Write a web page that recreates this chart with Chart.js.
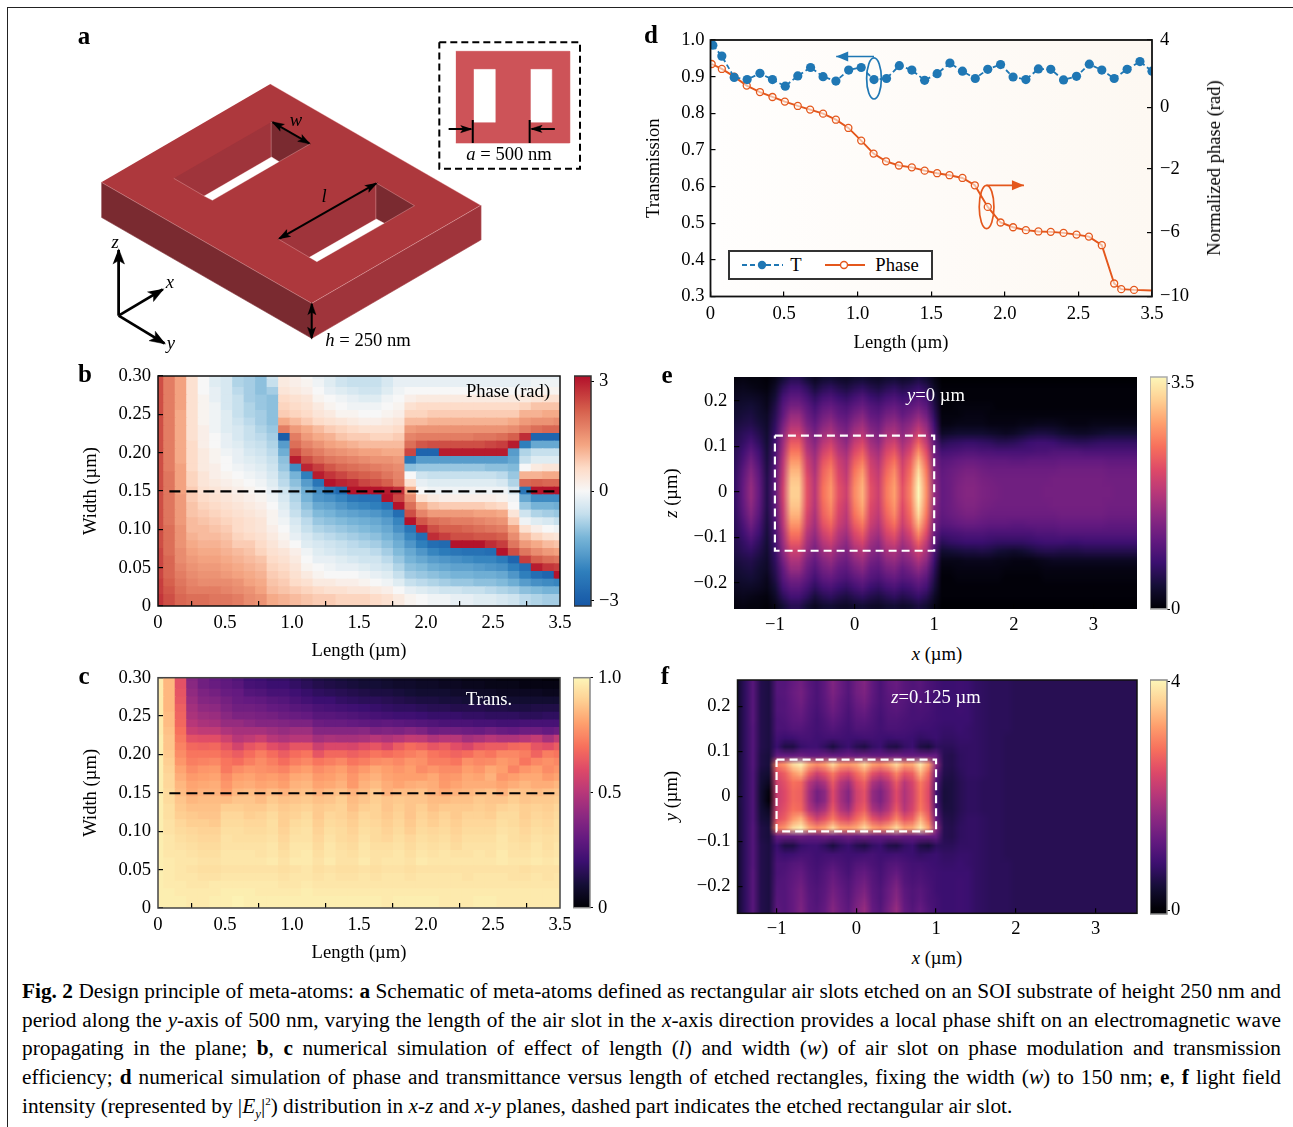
<!DOCTYPE html>
<html><head><meta charset="utf-8">
<script src="https://cdn.jsdelivr.net/npm/chart.js@4"></script>
<style>
html,body{margin:0;padding:0;background:#fff;}
body{width:1293px;height:1127px;position:relative;overflow:hidden;font-family:"Liberation Serif",serif;color:#000;}
canvas{position:absolute;display:block;}
.t{position:absolute;font-size:18.6px;line-height:20px;white-space:nowrap;transform:translate(-50%,-50%);z-index:5;}
.r{transform:translate(-50%,-50%) rotate(-90deg);}
.p{font-size:25px;font-weight:bold;}
.w{color:#fff;}
.cap{position:absolute;left:22px;width:1259px;font-size:21.3px;line-height:24px;height:24px;overflow:hidden;text-align:justify;text-align-last:justify;z-index:5;}
#frame{position:absolute;left:7px;top:7px;width:1290px;height:1130px;border:1.5px solid #222;box-sizing:border-box;}
.clip{position:absolute;overflow:hidden;background:#000;}
#leg{position:absolute;left:728px;top:250px;width:205px;height:30px;box-sizing:border-box;border:2px solid #333;background:#fff;z-index:4;}
#leg svg{position:absolute;left:0;top:0;}
</style></head><body>
<div id="frame"></div>
<canvas id="ca" width="540" height="350" style="left:60px;top:10px"></canvas>
<canvas id="cb" width="495" height="296" style="left:80px;top:366px"></canvas>
<canvas id="cbBar" width="60" height="250" style="left:574px;top:366px"></canvas>
<canvas id="cc" width="495" height="296" style="left:80px;top:668px"></canvas>
<canvas id="ccBar" width="60" height="250" style="left:573px;top:668px"></canvas>
<canvas id="cd" width="582" height="322" style="left:643px;top:30px"></canvas>
<div class="clip" style="left:734.3px;top:377.3px;width:402.7px;height:231.7px"><canvas id="ceHeat" width="51" height="26" style="left:-3.2px;top:-3.6px;width:406px;height:236.6px"></canvas></div>
<canvas id="ce" width="495" height="273" style="left:660px;top:367px"></canvas>
<canvas id="ceBar" width="60" height="252" style="left:1150px;top:367px"></canvas>
<div class="clip" style="left:737.5px;top:680px;width:399.5px;height:233.3px"><canvas id="cfHeat" width="51" height="27" style="left:-4.8px;top:-.9px;width:406.7px;height:243px"></canvas></div>
<canvas id="cf" width="495" height="274" style="left:660px;top:670px"></canvas>
<canvas id="cfBar" width="60" height="254" style="left:1150px;top:670px"></canvas>

<div class="t p" style="left:84px;top:36px">a</div>
<div class="t p" style="left:85px;top:374px">b</div>
<div class="t p" style="left:84px;top:676px">c</div>
<div class="t p" style="left:651px;top:35px">d</div>
<div class="t p" style="left:667px;top:375px">e</div>
<div class="t p" style="left:665px;top:676px">f</div>

<div class="t" style="left:296px;top:120px"><i>w</i></div>
<div class="t" style="left:324px;top:196px"><i>l</i></div>
<div class="t" style="left:115px;top:242px"><i>z</i></div>
<div class="t" style="left:170px;top:282px"><i>x</i></div>
<div class="t" style="left:171px;top:343px"><i>y</i></div>
<div class="t" style="left:368px;top:340px"><i>h</i> = 250 nm</div>
<div class="t" style="left:509px;top:154px"><i>a</i> = 500 nm</div>

<div class="t" style="left:508px;top:391px">Phase (rad)</div>
<div class="t w" style="left:489px;top:699px">Trans.</div>
<div class="t w" style="left:936px;top:395px"><i>y</i>=0 µm</div>
<div class="t w" style="left:936px;top:697px"><i>z</i>=0.125 µm</div>
<div class="t" style="left:901px;top:342px">Length (µm)</div>
<div class="t r" style="left:1214px;top:168px">Normalized phase (rad)</div>
<div class="t" style="left:937px;top:654px"><i>x</i> (µm)</div>
<div class="t r" style="left:671px;top:493px"><i>z</i> (µm)</div>
<div class="t" style="left:937px;top:958px"><i>x</i> (µm)</div>
<div class="t r" style="left:671px;top:796px"><i>y</i> (µm)</div>

<div id="leg"><svg width="201" height="26">
<line x1="12" y1="13" x2="53" y2="13" stroke="#1f77b4" stroke-width="1.8" stroke-dasharray="5 3"/><circle cx="32" cy="13" r="4.2" fill="#1f77b4"/>
<line x1="95" y1="13" x2="135" y2="13" stroke="#e4571c" stroke-width="1.8"/><circle cx="114" cy="13" r="3.5" fill="#fff" stroke="#e4571c" stroke-width="1.4"/>
</svg>
<div class="t" style="left:66px;top:13px">T</div><div class="t" style="left:167px;top:13px">Phase</div></div>

<div class="cap" style="top:979px"><b>Fig. 2</b> Design principle of meta-atoms: <b>a</b> Schematic of meta-atoms defined as rectangular air slots etched on an SOI substrate of height 250 nm and</div>
<div class="cap" style="top:1008px">period along the <i>y</i>-axis of 500 nm, varying the length of the air slot in the <i>x</i>-axis direction provides a local phase shift on an electromagnetic wave</div>
<div class="cap" style="top:1036px">propagating in the plane; <b>b</b>, <b>c</b> numerical simulation of effect of length (<i>l</i>) and width (<i>w</i>) of air slot on phase modulation and transmission</div>
<div class="cap" style="top:1065px">efficiency; <b>d</b> numerical simulation of phase and transmittance versus length of etched rectangles, fixing the width (<i>w</i>) to 150 nm; <b>e</b>, <b>f</b> light field</div>
<div class="cap" style="top:1094px;text-align-last:left;height:30px">intensity (represented by |<i>E<sub style="font-size:13px;line-height:0">y</sub></i>|<sup style="font-size:11px;line-height:0">2</sup>) distribution in <i>x-z</i> and <i>x-y</i> planes, dashed part indicates the etched rectangular air slot.</div>

<script>
/* ---------- tick positions and labels ---------- */
const lengthTicks=[0,0.5,1,1.5,2,2.5,3];
const lengthTickLabels=["0","0.5","1.0","1.5","2.0","2.5","3.5"];
const widthTicks=[0,0.05,0.10,0.15,0.20,0.25,0.30];
const widthTickLabels=["0","0.05","0.10","0.15","0.20","0.25","0.30"];
const transTicks=[0.3,0.4,0.5,0.6,0.7,0.8,0.9,1.0];
const transTickLabels=["0.3","0.4","0.5","0.6","0.7","0.8","0.9","1.0"];
const phaseAxisTicks=[4,0.31,-3.04,-6.51,-10];
const phaseAxisLabels=["4","0","\u22122","\u22126","\u221210"];
const fieldXTicks=[-1,0,1,2,3];
const fieldXLabels=["\u22121","0","1","2","3"];
const fieldYTicks=[0.2,0.1,0,-0.1,-0.2];
const fieldYLabels=["0.2","0.1","0","\u22120.1","\u22120.2"];

/* ---------- panel d ---------- */
const tLength=[.016,.077,.161,.249,.336,.421,.508,.593,.680,.765,.852,.939,1.024,1.111,1.196,1.283,1.368,1.455,1.540,1.627,1.712,1.799,1.884,1.971,2.056,2.143,2.228,2.312,2.399,2.487,2.574,2.659,2.743,2.831,2.918,3.0];
const tValues=[.986,.956,.898,.892,.909,.892,.874,.902,.925,.900,.888,.918,.925,.892,.895,.930,.918,.890,.908,.937,.915,.895,.920,.933,.899,.892,.921,.920,.891,.901,.934,.918,.895,.920,.941,.915];
const phaseLength=[.008,.077,.161,.246,.336,.421,.505,.593,.677,.765,.852,.937,1.024,1.108,1.193,1.28,1.368,1.455,1.54,1.624,1.712,1.796,1.884,1.971,2.056,2.143,2.228,2.312,2.399,2.487,2.571,2.659,2.743,2.791,2.878,3.0];
const phaseValues=[2.69,2.42,2.0,1.51,1.16,.89,.64,.4,.2,-.02,-.35,-.8,-1.49,-2.2,-2.62,-2.85,-2.95,-3.13,-3.27,-3.38,-3.53,-3.93,-5.11,-5.96,-6.22,-6.38,-6.45,-6.47,-6.53,-6.62,-6.73,-7.2,-9.29,-9.6,-9.64,-9.67];

/* ---------- panel b: phase, tenths of a radian; rows from width 0.30 to 0, columns along length ---------- */
const phaseGrid=[
[24,18,13,5,0,-3,-4,-8,-9,-11,-5,3,2,0,-2,-3,-5,-6,-6,-6,-4,-2,-2,-2,-2,-2,-2,-2,-2,-2,-2,-2,-2,-2,-2,-2],
[24,18,13,5,0,-3,-4,-8,-9,-11,-6,3,2,1,-1,-3,-5,-6,-6,-6,-4,-2,-2,-2,-2,-2,-2,-2,-2,-2,-2,-2,-2,-1,-1,-1],
[24,18,13,5,0,-2,-4,-7,-9,-11,-9,4,3,2,0,-2,-3,-4,-5,-5,-3,-1,0,0,0,0,0,0,0,0,0,0,0,1,1,1],
[24,18,13,5,1,-2,-4,-6,-9,-10,-11,6,5,4,1,0,-1,-2,-3,-3,-1,0,2,3,3,3,3,3,3,3,3,3,3,4,5,5],
[24,18,13,5,1,-1,-4,-6,-8,-10,-11,7,6,5,3,1,0,-1,-1,-1,0,1,5,6,6,6,6,6,6,6,6,6,7,9,9,9],
[24,18,12,5,1,-1,-3,-6,-8,-9,-11,8,7,6,4,3,1,1,0,0,1,2,7,7,8,8,8,8,8,8,8,8,11,11,12,12],
[24,18,12,5,1,-1,-3,-5,-7,-9,-11,12,10,8,6,5,4,3,2,2,3,4,10,10,11,11,11,11,11,11,11,12,14,15,15,16],
[24,18,12,5,2,-1,-3,-4,-6,-8,-10,18,14,12,10,8,7,6,5,5,5,6,14,15,15,15,15,15,15,15,15,16,18,20,21,21],
[24,18,12,5,2,0,-2,-4,-6,-7,-9,-30,18,14,12,11,9,8,8,7,7,8,17,18,18,18,18,18,19,19,20,22,28,-28,-28,-28],
[24,18,12,6,2,0,-2,-3,-5,-6,-8,-17,20,17,15,13,12,11,10,10,10,10,20,23,24,24,24,24,24,25,26,30,-22,-15,-15,-15],
[24,18,12,6,3,1,-1,-2,-4,-5,-7,-14,24,20,18,16,15,14,13,13,12,12,25,-28,-28,30,30,30,30,30,30,-17,-8,-6,-6,-6],
[24,18,12,6,3,1,0,-2,-3,-4,-6,-11,30,24,21,19,18,17,16,15,15,14,-24,-17,-17,-17,-17,-17,-17,-17,-17,-15,-6,-3,-3,-3],
[24,18,13,6,3,2,0,-1,-2,-3,-5,-10,-20,29,26,23,21,20,19,18,17,16,-11,-10,-10,-10,-10,-10,-10,-11,-11,-12,0,3,4,4],
[24,19,13,7,4,2,1,0,-1,-2,-4,-8,-13,-22,30,27,25,23,22,21,19,17,0,-5,-6,-6,-6,-6,-6,-6,-7,-10,11,11,12,12],
[24,19,13,7,4,3,2,1,0,-1,-3,-7,-11,-17,-24,31,29,28,25,24,22,18,5,-2,-3,-3,-3,-3,-3,-3,-4,-8,21,22,21,21],
[24,19,13,8,5,4,3,2,1,0,-2,-5,-9,-14,-19,-24,-27,31,31,31,30,28,12,0,-1,-1,-1,-1,-1,-1,-1,-4,-24,31,31,31],
[24,19,14,8,6,5,4,3,2,1,-1,-4,-8,-13,-18,-19,-21,-24,-25,-25,31,25,16,5,3,2,2,2,2,2,1,-1,-15,-20,-20,-20],
[24,19,14,9,7,6,5,4,3,2,0,-3,-7,-11,-15,-16,-18,-20,-21,-22,-25,31,20,12,9,8,8,8,8,7,6,0,-10,-13,-13,-14],
[24,19,14,9,8,7,6,5,4,3,1,-2,-6,-9,-12,-13,-15,-16,-17,-18,-20,-26,24,17,14,14,14,14,13,13,12,4,-5,-8,-9,-10],
[24,19,14,10,9,8,7,6,5,4,1,-1,-4,-7,-10,-11,-12,-13,-14,-15,-17,-21,31,23,20,19,18,18,17,16,15,8,-1,-3,-4,-6],
[24,20,15,10,10,9,8,6,5,4,2,0,-3,-6,-8,-9,-10,-11,-12,-13,-15,-19,-24,29,24,22,22,21,20,19,18,13,5,2,0,-1],
[24,20,15,11,10,10,9,7,6,5,3,1,-2,-4,-6,-7,-8,-9,-10,-11,-13,-16,-21,-26,28,26,24,24,23,23,22,16,10,7,5,4],
[24,20,15,12,11,11,10,8,8,6,4,2,0,-3,-4,-5,-6,-7,-8,-9,-11,-14,-18,-22,-26,-27,31,31,31,28,26,19,14,12,10,9],
[25,20,16,13,12,12,11,10,9,7,5,4,2,-1,-3,-4,-5,-6,-6,-7,-9,-12,-15,-18,-21,-23,-24,-25,-25,-26,31,24,19,16,14,13],
[25,21,16,14,13,13,12,11,10,9,6,5,3,0,-2,-2,-3,-4,-5,-5,-7,-10,-13,-15,-17,-18,-19,-20,-21,-21,-23,-28,26,22,20,19],
[25,21,17,15,14,14,13,12,11,10,7,6,4,1,0,-1,-2,-2,-3,-4,-5,-8,-11,-12,-14,-15,-16,-16,-17,-18,-19,-22,-26,30,27,26],
[25,21,18,16,15,15,14,13,12,11,8,7,5,3,1,0,0,0,-1,-2,-3,-6,-9,-10,-11,-12,-13,-13,-14,-14,-15,-18,-22,-26,-28,31],
[26,22,19,17,16,16,16,15,13,12,9,8,6,5,3,3,2,2,1,0,-1,-3,-6,-7,-8,-9,-10,-10,-11,-11,-12,-14,-17,-19,-20,-21],
[26,23,20,18,18,18,17,16,15,13,10,9,8,7,6,5,5,4,4,3,2,0,-2,-3,-4,-5,-5,-6,-6,-7,-8,-9,-11,-12,-13,-13],
[27,24,21,20,20,19,19,18,16,15,12,11,10,9,8,8,7,7,7,6,5,3,1,0,-1,-1,-2,-2,-3,-3,-4,-5,-7,-8,-9,-9],
[27,24,21,20,20,19,19,18,16,15,12,11,10,9,8,8,7,7,7,6,5,3,1,0,-1,-1,-2,-2,-3,-3,-4,-5,-7,-8,-9,-9]
];

/* ---------- panel c: transmission in percent ---------- */
const transGrid=[
[97,85,62,38,33,30,28,25,21,20,18,18,16,14,12,11,10,9,8,8,7,6,6,5,5,4,4,3,3,3,2,2,2,2,1,1],
[97,85,62,39,33,31,29,27,23,22,20,20,18,16,14,13,12,11,10,10,9,8,8,7,7,6,6,5,5,4,4,4,3,3,3,3],
[97,85,63,41,36,34,31,30,26,25,23,23,21,19,17,16,15,14,13,12,12,11,10,9,9,9,8,8,7,7,6,6,6,6,5,5],
[97,85,64,43,38,37,34,31,30,29,27,26,24,22,20,20,18,17,16,16,15,14,13,12,12,11,11,10,10,10,9,9,9,9,9,9],
[97,85,66,45,41,40,36,33,33,32,30,29,27,26,24,23,22,21,20,19,18,17,17,16,15,15,14,14,14,13,13,12,12,13,13,13],
[97,86,67,47,44,43,39,36,36,35,34,32,31,30,27,27,26,25,24,23,22,21,21,20,19,19,19,18,18,17,17,17,16,16,17,17],
[97,86,68,50,47,46,42,42,40,38,38,37,36,36,32,31,31,30,29,28,29,28,27,26,25,24,24,24,23,23,22,22,23,23,23,23],
[97,87,70,54,52,52,48,46,46,46,44,42,44,44,38,38,38,38,39,36,37,36,38,36,32,33,33,32,31,33,31,30,32,32,30,32],
[98,88,72,62,61,61,56,50,52,55,50,48,50,50,45,47,46,46,47,50,48,50,53,52,48,50,50,45,47,50,48,48,50,53,46,52],
[98,88,74,68,67,68,63,57,63,66,61,58,63,63,55,59,59,58,61,63,59,65,69,67,63,65,61,58,63,65,65,68,69,63,61,65],
[98,89,76,71,71,71,68,65,69,73,69,65,69,71,63,68,68,66,68,71,69,71,73,75,71,69,67,69,73,71,75,75,73,67,73,71],
[98,90,78,73,74,75,71,69,73,76,73,69,73,75,71,73,75,71,73,76,77,75,78,77,73,73,71,77,75,76,79,77,71,75,77,75],
[98,91,81,76,78,79,72,76,78,77,76,74,78,80,76,78,80,76,79,82,80,78,80,76,78,76,76,80,78,82,80,74,78,80,76,78],
[98,92,83,79,80,81,76,80,81,79,80,78,82,83,79,80,82,78,82,84,81,80,80,80,82,78,79,82,81,84,78,80,82,82,79,81],
[98,92,85,81,82,83,78,82,83,81,82,80,84,85,81,82,84,79,84,86,83,81,83,84,83,79,81,83,83,83,81,83,85,83,83,85],
[98,93,86,82,84,84,80,85,86,84,86,84,86,87,84,86,87,84,86,89,84,86,86,87,84,82,84,85,86,87,84,88,87,86,87,88],
[98,93,88,85,86,86,86,88,88,86,89,87,88,89,87,88,90,86,88,90,88,89,88,88,86,86,87,87,89,88,88,90,88,89,89,90],
[98,94,89,87,87,87,90,90,89,89,91,89,90,91,89,90,91,87,90,91,88,90,88,90,87,89,89,89,90,89,91,92,90,91,90,92],
[98,94,90,89,88,88,92,92,90,91,93,90,91,93,89,92,91,89,92,91,89,91,88,91,89,91,89,91,91,90,93,93,90,92,91,93],
[98,95,92,90,90,89,93,93,92,92,94,90,93,94,90,93,92,90,93,92,90,92,89,92,90,92,90,92,92,92,94,93,91,93,92,94],
[98,95,93,92,91,91,94,94,93,93,94,91,94,95,91,94,93,91,94,93,91,93,90,93,92,93,91,93,93,93,95,94,92,94,93,94],
[98,96,94,93,92,92,95,94,94,94,95,92,95,95,92,95,93,92,95,93,92,94,92,94,93,94,92,94,94,94,96,94,93,95,94,95],
[98,96,95,94,93,93,95,95,95,95,96,93,96,96,93,96,94,93,96,94,94,95,93,95,94,95,93,95,95,95,96,95,94,96,94,96],
[98,96,96,95,94,94,96,96,96,95,96,94,96,97,94,96,95,94,96,95,95,96,94,96,95,96,95,95,96,95,97,95,95,96,95,96],
[98,97,96,96,95,95,96,96,96,96,97,95,97,97,95,97,95,95,97,95,96,96,95,97,96,96,96,96,96,96,97,96,96,97,96,97],
[98,97,96,95,94,94,95,95,95,95,95,94,95,96,94,95,94,94,95,94,95,95,94,95,95,95,95,95,95,95,95,95,94,95,95,95],
[98,97,96,96,95,95,96,96,96,96,96,95,96,96,95,96,95,95,96,95,96,96,95,96,96,96,96,95,96,96,96,95,95,96,95,96],
[98,97,97,96,96,97,97,97,97,97,97,96,96,97,96,96,96,96,96,96,96,96,96,96,96,96,96,96,96,96,96,96,96,96,96,96],
[98,98,97,97,97,97,98,98,98,97,97,97,97,98,97,97,97,97,97,97,97,97,97,97,97,97,97,97,97,97,97,97,97,97,97,97],
[98,98,98,97,97,98,98,99,98,98,98,98,98,98,98,98,98,98,98,98,97,98,98,98,98,97,97,97,98,98,97,97,97,97,97,97],
[98,98,98,97,97,98,98,99,98,98,98,98,98,98,98,98,98,98,98,98,97,98,98,98,98,97,97,97,98,98,97,97,97,97,97,97]
];

/* ---------- panel e: field intensity in percent of full scale; z from 0.25 to -0.25, x from -1.5 to 3.5 ---------- */
const fieldXZ=[
[2,3,2,2,1,4,10,15,15,10,6,9,10,8,7,9,10,8,7,9,10,8,9,12,9,4,0,0,0,0,0,0,0,0,0,0,0,0,0,0,0,0,0,0,0,0,0,0,0,0,0],
[4,5,4,3,2,7,16,22,22,17,11,15,17,14,12,15,17,14,12,15,17,14,16,19,15,7,1,1,1,1,1,1,1,1,1,1,1,1,1,1,1,1,1,1,1,1,1,1,1,1,1],
[6,7,7,6,4,10,22,28,28,23,17,22,24,20,18,22,25,20,18,22,24,20,22,26,22,11,1,1,1,1,1,1,1,1,1,1,1,1,1,1,1,1,1,1,1,1,1,1,1,1,1],
[8,9,10,8,5,13,26,34,34,28,22,28,30,26,24,28,31,26,24,28,30,26,28,32,27,14,1,1,2,2,2,2,2,1,1,1,1,1,1,1,1,1,1,1,1,1,1,1,1,1,1],
[9,11,12,9,7,15,29,42,42,32,26,33,36,30,28,34,38,30,28,34,36,30,34,40,33,17,2,2,2,3,3,3,2,2,2,2,2,2,2,2,2,2,2,2,2,2,2,2,2,2,2],
[11,13,14,11,8,17,34,48,48,36,30,38,42,35,32,40,44,35,32,40,42,36,40,48,40,21,3,3,4,4,4,4,3,3,3,3,4,4,5,5,5,4,3,3,3,4,4,4,4,4,4],
[13,16,18,14,9,19,39,55,55,42,34,44,48,40,36,46,50,40,36,46,48,40,46,56,46,25,7,8,9,9,9,9,8,7,6,7,9,11,12,12,11,9,8,7,7,8,9,10,10,10,10],
[14,18,23,17,10,21,43,64,64,46,38,50,55,46,40,53,58,45,40,52,56,45,52,66,52,29,15,17,18,19,19,18,17,15,15,16,18,20,21,21,20,18,17,16,16,17,18,18,18,18,18],
[15,21,28,21,11,23,46,71,71,50,42,56,62,50,45,59,65,50,45,58,63,50,59,76,60,32,22,23,24,25,25,24,24,23,23,23,23,23,24,24,25,25,25,25,24,24,24,24,24,24,24],
[16,24,33,24,12,24,50,78,78,55,45,62,68,55,49,65,72,55,49,63,70,55,65,85,66,35,27,28,30,31,31,30,29,29,29,28,28,29,29,29,29,30,30,30,30,30,30,29,29,29,29],
[17,27,37,27,13,26,52,84,84,58,47,66,73,58,51,70,78,58,52,67,75,58,69,92,71,38,29,31,33,35,35,33,32,32,32,32,32,32,32,32,32,33,33,33,33,33,33,32,32,32,32],
[18,29,40,29,14,27,54,88,88,61,49,68,76,60,53,73,82,60,54,70,78,60,72,97,74,40,30,32,35,37,37,35,34,33,33,33,33,33,33,33,34,34,34,34,34,34,34,33,33,33,33],
[18,30,42,30,14,28,56,90,90,62,50,70,78,62,55,75,84,62,55,72,80,62,74,100,76,42,30,32,36,38,38,36,35,34,33,33,33,33,33,34,34,34,34,34,34,34,34,34,33,33,33],
[18,30,42,30,14,28,56,90,90,62,50,70,78,62,55,75,84,62,55,72,80,62,74,100,76,42,30,32,36,38,38,36,35,34,33,33,33,33,33,34,34,34,34,34,34,34,34,34,33,33,33],
[18,29,40,29,14,27,54,88,88,61,49,68,76,60,53,73,82,60,54,70,78,60,72,97,74,40,30,32,35,37,37,35,34,33,33,33,33,33,33,33,34,34,34,34,34,34,34,33,33,33,33],
[17,27,37,27,13,26,52,84,84,58,47,66,73,58,51,70,78,58,52,67,75,58,69,92,71,38,29,31,33,35,35,33,32,32,32,32,32,32,32,32,32,33,33,33,33,33,33,32,32,32,32],
[16,24,33,24,12,24,50,78,78,55,45,62,68,55,49,65,72,55,49,63,70,55,65,85,66,35,27,28,30,31,31,30,29,29,29,28,28,29,29,29,29,30,30,30,30,30,30,29,29,29,29],
[15,21,28,21,11,23,46,71,71,50,42,56,62,50,45,59,65,50,45,58,63,50,59,76,60,32,22,23,24,25,25,25,24,24,24,24,24,24,25,25,25,26,26,26,26,26,26,26,26,26,26],
[14,18,23,17,10,21,43,64,64,46,38,50,55,46,40,53,58,45,40,52,56,45,52,66,52,29,16,18,19,20,20,20,19,18,18,18,18,19,20,21,21,21,20,20,21,21,21,21,21,21,21],
[13,16,18,14,9,19,39,55,55,42,34,44,48,40,36,46,50,40,36,46,48,40,46,56,46,25,9,10,11,12,12,13,12,10,9,8,9,11,13,14,14,13,13,13,14,14,14,14,14,14,14],
[11,13,14,11,8,17,34,48,48,36,30,38,42,35,32,40,44,35,32,40,42,36,40,48,40,21,4,4,4,5,5,5,5,4,4,3,3,3,4,5,6,6,6,6,6,6,6,6,6,6,6],
[9,11,12,9,7,15,29,42,42,32,26,33,36,30,28,34,38,30,28,34,36,30,34,40,33,17,2,2,3,3,3,3,3,3,2,2,2,2,2,3,3,3,3,3,3,3,3,3,3,3,3],
[8,9,10,8,5,13,26,34,34,28,22,28,30,26,24,28,31,26,24,28,30,26,28,32,27,14,1,1,2,2,2,2,2,2,1,1,1,1,1,2,2,2,2,2,2,2,2,2,2,2,2],
[6,7,7,6,4,10,22,28,28,23,17,22,24,20,18,22,25,20,18,22,24,20,22,26,22,11,1,1,1,1,1,1,1,1,1,1,1,1,1,1,1,1,1,1,1,1,1,1,1,1,1],
[4,5,4,3,2,7,16,22,22,17,11,15,17,14,12,15,17,14,12,15,17,14,16,19,15,7,1,1,1,1,1,1,1,1,1,1,1,1,1,1,1,1,1,1,1,1,1,1,1,1,1],
[2,3,2,2,1,4,10,15,15,10,6,9,10,8,7,9,10,8,7,9,10,8,9,12,9,4,0,0,0,0,0,0,0,0,0,0,0,0,0,0,0,0,0,0,0,0,0,0,0,0,0]
];

/* ---------- panel f: field intensity in percent of full scale; y from 0.25 to -0.27, x from -1.5 to 3.5 ---------- */
const fieldXY=[
[8,17,27,14,12,26,26,30,33,27,24,29,37,31,26,33,37,29,24,29,31,27,25,27,24,22,20,20,21,20,18,17,16,16,16,15,15,15,15,15,15,15,15,15,15,15,15,15,15,15,15],
[8,17,27,14,12,26,27,31,34,28,24,29,36,31,26,33,36,29,24,28,30,27,25,26,24,22,20,20,21,20,18,17,16,16,16,15,15,15,15,15,15,15,15,15,15,15,15,15,15,15,15],
[8,17,27,14,12,25,26,30,33,27,24,28,34,29,25,31,34,28,24,27,28,26,24,25,23,21,20,20,21,20,18,17,16,16,16,15,15,15,15,15,15,15,15,15,15,15,15,15,15,15,15],
[8,17,27,14,12,25,26,29,31,26,23,27,32,28,24,29,31,26,23,26,27,25,23,24,23,21,20,20,21,20,18,17,16,16,16,15,15,15,15,15,15,15,15,15,15,15,15,15,15,15,15],
[8,17,27,14,12,24,25,28,29,25,22,25,29,26,23,27,28,25,22,25,25,24,23,23,22,21,20,20,20,20,18,17,16,16,16,15,15,15,15,15,15,15,15,15,15,15,15,15,15,15,15],
[8,17,26,14,12,24,24,26,26,24,22,24,26,24,22,25,25,24,22,24,24,23,22,21,21,20,19,19,20,19,18,17,16,16,16,15,15,15,15,15,15,15,15,15,15,15,15,15,15,15,15],
[8,17,26,14,12,22,20,21,23,23,21,22,22,22,21,21,22,22,21,20,21,21,20,18,19,20,18,18,19,19,18,17,16,16,15,15,15,15,15,15,15,15,15,15,15,15,15,15,15,15,15],
[8,17,26,14,12,20,13,13,19,21,21,17,12,17,20,15,13,18,20,14,13,18,20,13,11,17,16,16,18,18,18,17,16,16,15,15,15,15,15,15,15,15,15,15,15,15,15,15,15,15,15],
[9,17,26,13,11,30,30,30,32,30,30,32,30,30,32,30,32,30,30,30,32,30,30,30,30,30,15,14,17,18,18,17,16,16,15,15,15,15,15,15,15,15,15,15,15,15,15,15,15,15,15],
[9,17,26,13,11,72,78,92,98,82,75,80,92,80,78,82,92,80,76,82,92,80,82,96,80,40,15,14,17,18,18,17,16,16,15,15,15,15,15,15,15,15,15,15,15,15,15,15,15,15,15],
[9,17,25,11,9,60,66,78,84,66,55,62,72,62,58,68,76,62,56,62,74,62,66,84,68,30,14,13,16,18,18,17,16,16,15,15,15,15,15,15,15,15,15,15,15,15,15,15,15,15,15],
[9,17,25,10,6,56,62,70,68,50,42,48,64,50,44,60,66,48,42,50,64,50,58,72,62,25,12,12,15,17,17,16,16,16,15,15,15,15,15,15,15,15,15,15,15,15,15,15,15,15,15],
[10,17,25,9,2,54,60,68,66,46,34,40,60,46,38,56,62,42,36,46,60,48,56,70,60,22,11,12,15,17,17,16,16,16,15,15,15,15,15,15,15,15,15,15,15,15,15,15,15,15,15],
[10,17,25,9,1,54,60,68,66,46,34,40,60,46,38,56,62,42,36,46,60,48,56,70,60,22,11,12,15,17,17,16,16,16,15,15,15,15,15,15,15,15,15,15,15,15,15,15,15,15,15],
[9,17,25,10,6,56,62,70,68,50,42,48,64,50,44,60,66,48,42,50,64,50,58,72,62,25,12,12,15,17,17,16,16,16,15,15,15,15,15,15,15,15,15,15,15,15,15,15,15,15,15],
[9,17,25,11,9,60,66,78,84,66,55,62,72,62,58,68,76,62,56,62,74,62,66,84,68,30,14,13,16,18,18,17,16,16,15,15,15,15,15,15,15,15,15,15,15,15,15,15,15,15,15],
[9,17,26,13,11,72,78,92,98,82,75,80,92,80,78,82,92,80,76,82,92,80,82,96,80,40,15,14,17,18,18,17,16,16,15,15,15,15,15,15,15,15,15,15,15,15,15,15,15,15,15],
[9,17,26,13,11,30,30,30,32,30,30,32,30,30,32,30,32,30,30,30,32,30,30,30,30,30,15,14,17,18,18,17,16,16,15,15,15,15,15,15,15,15,15,15,15,15,15,15,15,15,15],
[8,17,26,14,12,20,13,13,19,21,21,17,12,17,20,15,13,18,20,14,13,18,20,13,11,17,16,16,18,18,18,17,16,16,15,15,15,15,15,15,15,15,15,15,15,15,15,15,15,15,15],
[8,17,26,14,12,22,20,21,23,23,21,22,22,22,21,21,22,23,21,21,22,21,20,18,19,20,18,18,19,19,18,17,16,16,15,15,15,15,15,15,15,15,15,15,15,15,15,15,15,15,15],
[8,17,26,14,12,24,24,26,27,24,22,24,26,24,22,25,26,24,22,25,26,24,22,22,21,20,19,19,20,19,18,17,16,16,16,15,15,15,15,15,15,15,15,15,15,15,15,15,15,15,15],
[8,17,27,14,12,24,25,28,30,25,23,26,30,26,23,28,30,26,23,27,30,25,23,24,22,21,20,20,20,20,18,17,16,16,16,15,15,15,15,15,15,15,15,15,15,15,15,15,15,15,15],
[8,17,27,14,12,25,26,29,32,26,24,27,32,28,25,30,33,27,24,29,34,26,24,25,23,21,20,20,21,20,18,17,16,16,16,15,15,15,15,15,15,15,15,15,15,15,15,15,15,15,15],
[8,17,27,14,12,26,26,30,34,27,25,28,34,30,26,32,36,28,25,31,37,28,25,27,24,21,20,20,21,20,18,17,16,16,16,15,15,15,15,15,15,15,15,15,15,15,15,15,15,15,15],
[8,17,27,14,12,27,26,30,35,28,25,29,36,31,27,34,39,29,25,32,39,29,25,28,24,22,20,20,21,20,18,17,16,16,16,15,15,15,15,15,15,15,15,15,15,15,15,15,15,15,15],
[8,17,27,14,12,28,26,30,36,28,26,30,38,32,28,36,42,30,26,34,42,30,26,30,25,22,20,20,21,20,18,17,16,16,16,15,15,15,15,15,15,15,15,15,15,15,15,15,15,15,15],
[8,17,27,14,12,28,26,30,36,28,26,30,38,32,28,36,42,30,26,34,42,30,26,30,25,22,20,20,21,20,18,17,16,16,16,15,15,15,15,15,15,15,15,15,15,15,15,15,15,15,15]
];

/* ---------- panel a outlines, in crop units ---------- */
const slabTop=[[610,222],[1220,586],[730,880],[120,517]];
const slabLeft=[[120,517],[730,880],[730,985],[120,622]];
const slabRight=[[1220,586],[1220,690],[730,985],[730,880]];
const slot1Wall=[[613,336],[613,441],[418,558],[330,505]];
const slot1End=[[613,336],[725,402],[635,455],[613,441]];
const slot1Gap=[[613,441],[635,455],[442,571],[418,558]];
const slot2Wall=[[917,519],[917,627],[723,742],[633,687]];
const slot2End=[[917,519],[1028,587],[940,640],[917,627]];
const slot2Gap=[[917,627],[940,640],[745,755],[723,742]];
const insetPlate=[[1148,124],[1478,124],[1478,399],[1148,399]];
const insetSlotL=[[1200,178],[1262,178],[1262,337],[1200,337]];
const insetSlotR=[[1365,178],[1426,178],[1426,337],[1365,337]];
const insetFrame=[[1100,97],[1508,97],[1508,476],[1100,476],[1100,97]];
const plainLines=[[[1197,330],[1197,399]],[[1362,330],[1362,399]]];
const oneHeadArrows=[[[1127,357],[1192,357]],[[1435,357],[1368,357]],[[170,917],[170,720]],[[170,917],[298,838]],[[170,917],[303,1000]]];
const twoHeadArrows=[[[730,882],[730,984]],[[617,337],[723,400]],[[636,686],[917,520]]];

/* ---------- colour scales ---------- */
const magmaStops=["#000004","#140e36","#3b0f70","#641a80","#8c2981","#b73779","#de4968","#f7705c","#fe9f6d","#fecf92","#fcf6b8"];
const rdbuStops=[[0,"#1657a6"],[.15,"#2f7fbc"],[.3,"#7ab6d8"],[.4,"#c5dfed"],[.5,"#f7f7f7"],[.6,"#fddbc7"],[.7,"#f4a582"],[.85,"#d6604d"],[1,"#b2102a"]];
const magmaTable=magmaStops.map((c,i)=>[i/10,c]);
const hex=c=>[1,3,5].map(i=>parseInt(c.substr(i,2),16));
function ramp(table,t){
  t=Math.max(0,Math.min(1,t));
  for(let i=1;i<table.length;i++){
    if(t<=table[i][0]){
      const a=table[i-1],b=table[i],f=(t-a[0])/(b[0]-a[0]),A=hex(a[1]),B=hex(b[1]);
      return `rgb(${A.map((v,k)=>Math.round(v+(B[k]-v)*f)).join(",")})`;
    }
  }
  return table[table.length-1][1];
}

/* ---------- helpers ---------- */
Chart.defaults.font.family='"Liberation Serif",serif';
Chart.defaults.color='#000';
const F={family:'"Liberation Serif",serif',size:18.6};

function axis(o){
  return {type:'linear',min:o.min,max:o.max,position:o.pos,reverse:!!o.reverse,
    title:o.title?{display:true,text:o.title,font:F,color:'#000',padding:0}:{display:false},
    grid:{drawOnChartArea:false,drawTicks:true,tickLength:-(o.tl||5),color:o.tickColor||'#000',lineWidth:1.2,z:2},
    border:{display:false},
    ticks:{font:F,color:'#000',padding:o.pad+(o.tl||5),autoSkip:false,maxRotation:0,callback:(v,i)=>o.labels[i]},
    afterBuildTicks:s=>{s.ticks=o.values.map(v=>({value:v}));},
    afterFit:s=>{
      if(s.isHorizontal())s.height=o.size;else s.width=o.size;
      s.paddingLeft=s.paddingRight=s.paddingTop=s.paddingBottom=0;
    }
  };
}
const frame={id:'frame',afterDraw(c,a,opt){
  if(!opt.color)return;
  const g=c.chartArea,x=c.ctx;x.save();x.strokeStyle=opt.color;x.lineWidth=opt.width||1.5;
  x.strokeRect(g.left,g.top,g.width,g.height);x.restore();
}};
Chart.register(frame);
const base={responsive:false,devicePixelRatio:1,animation:false,events:[]};
function opts(extra,frameColor,frameWidth,pad){
  return Object.assign({},base,extra,{layout:{padding:pad||0},
    plugins:{legend:{display:false},tooltip:{enabled:false},frame:{color:frameColor,width:frameWidth}}});
}
function cells(rows,xOf,yOf,half,colour){
  const data=[],bg=[];
  rows.forEach((r,j)=>r.forEach((v,i)=>{
    data.push({x:xOf(i),y:[yOf(j)-half,yOf(j)+half]});bg.push(colour(v));
  }));
  return {type:'bar',data,backgroundColor:bg,borderWidth:0,barPercentage:1,categoryPercentage:1,inflateAmount:.5,order:5};
}
function colourbar(id,table,lo,hi,vals,labels,fromT,padTop,padBottom,fc,labelGap){
  new Chart(document.getElementById(id),{type:'bar',
    data:{labels:['scale'],datasets:[{data:[[lo,hi]],barPercentage:1,categoryPercentage:1,borderWidth:0,
      backgroundColor:c=>{
        const g=c.chart.chartArea;if(!g)return '#000';
        const y=c.chart.ctx.createLinearGradient(0,g.bottom,0,g.top);
        for(let i=0;i<=40;i++)y.addColorStop(i/40,ramp(table,fromT(lo+(hi-lo)*i/40)));
        return y;}}]},
    options:opts({scales:{
      x:{display:false},
      y:Object.assign(axis({min:lo,max:hi,pos:'right',values:vals,labels:labels,pad:labelGap-5,size:60-17,tl:0}),
        {grid:{drawOnChartArea:false,drawTicks:true,tickLength:3,color:'#000',lineWidth:1,z:2}})
    }},fc,1.5,{top:padTop,bottom:padBottom})});
}

/* ---------- panel a ---------- */
function poly(p,fillC,lineC,w){
  return {type:'line',data:p.map(q=>({x:q[0],y:q[1]})),fill:'shape',backgroundColor:fillC,borderColor:lineC||fillC,borderWidth:w===undefined?.6:w,pointRadius:0,tension:0};
}
function stroke(p,col,w,dash){
  return {type:'line',data:p.map(q=>({x:q[0],y:q[1]})),fill:false,borderColor:col,borderWidth:w,borderDash:dash||[],pointRadius:0,tension:0};
}
function head(from,to,L,W){
  const dx=to[0]-from[0],dy=to[1]-from[1],n=Math.hypot(dx,dy),ux=dx/n,uy=dy/n;
  return poly([[to[0]+ux*4,to[1]+uy*4],[to[0]-ux*L-uy*W,to[1]-uy*L+ux*W],[to[0]-ux*L*.75,to[1]-uy*L*.75],[to[0]-ux*L+uy*W,to[1]-uy*L-ux*W]],'#000','#000',.5);
}
const faceTop='#ad383d',faceDark='#7a2a30',faceMid='#9f343b',hair='rgba(255,205,205,.55)';
const paint=[
  poly(slabLeft,faceDark),poly(slabRight,faceMid),poly(slabTop,faceTop,hair),
  poly(slot1Wall,faceMid,hair),poly(slot1End,faceDark,hair),poly(slot1Gap,'#fff','#fff',.3),
  poly(slot2Wall,faceMid,hair),poly(slot2End,faceDark,hair),poly(slot2Gap,'#fff','#fff',.3),
  poly(insetPlate,'#cd5358'),poly(insetSlotL,'#fff','#fff',.3),poly(insetSlotR,'#fff','#fff',.3),
  stroke(insetFrame,'#000',2,[7,4])
];
plainLines.forEach(l=>paint.push(stroke(l,'#000',2)));
oneHeadArrows.forEach((l,i)=>{paint.push(stroke(l,'#000',i<2?2:2.8));paint.push(i<2?head(l[0],l[1],30,11):head(l[0],l[1],42,17));});
twoHeadArrows.forEach(l=>{paint.push(stroke(l,'#000',2));paint.push(head(l[0],l[1],32,12));paint.push(head(l[1],l[0],32,12));});
new Chart(document.getElementById('ca'),{type:'line',data:{datasets:paint.reverse()},
  options:opts({scales:{x:{type:'linear',display:false,min:0,max:1566},y:{type:'linear',display:false,min:0,max:1050,reverse:true}}})});

/* ---------- panels b and c ---------- */
const colX=i=>i*3/35, rowY=j=>0.30-j*0.01;
function mapChart(id,grid,colour,frameC,pad){
  new Chart(document.getElementById(id),{type:'bar',
    data:{datasets:[cells(grid,colX,rowY,.005,colour),
      Object.assign(stroke([[0.085,.1495],[3,.1495]],'#000',2.2,[11,6]),{order:1})]},
    options:opts({scales:{
      x:Object.assign(axis({min:0,max:3,pos:'bottom',values:lengthTicks,labels:lengthTickLabels,pad:6,size:56,title:'Length (\u00b5m)'}),{offset:false}),
      y:axis({min:0,max:.3,pos:'left',values:widthTicks,labels:widthTickLabels,pad:7,size:78,title:'Width (\u00b5m)'})
    }},frameC,1.5,pad)});
}
const phaseT=v=>(v+3.14)/6.28;
mapChart('cb',phaseGrid,v=>ramp(rdbuStops,phaseT(v/10)),'#111',{top:10,right:15});
mapChart('cc',transGrid,v=>ramp(magmaTable,v/100),'#444',{top:9.7,right:15});
colourbar('cbBar',rdbuStops,-3.14,3.14,[3,0,-3],["3","0","\u22123"],phaseT,10,10,'#333',5);
colourbar('ccBar',magmaTable,0,1,[1,.5,0],["1.0","0.5","0"],t=>t,9.7,10.3,'#888',5);

/* ---------- panel d ---------- */
const dNotes={id:'dNotes',afterDatasetsDraw(c){
  const x=c.ctx,X=c.scales.x,T=c.scales.y,P=c.scales.y1;
  const draw=(col,cx,cy,rx,ry,sy,ex,scale)=>{
    x.save();x.strokeStyle=col;x.fillStyle=col;x.lineWidth=1.7;
    const px=X.getPixelForValue(cx),py=scale.getPixelForValue(cy),qy=scale.getPixelForValue(sy),ep=X.getPixelForValue(ex);
    x.beginPath();x.ellipse(px,py,Math.abs(X.getPixelForValue(cx+rx)-px),Math.abs(scale.getPixelForValue(cy+ry)-py),0,0,Math.PI*2);x.stroke();
    x.beginPath();x.moveTo(px,qy);x.lineTo(ep,qy);x.stroke();
    const d=Math.sign(ep-px);
    x.beginPath();x.moveTo(ep,qy);x.lineTo(ep-d*12,qy-5);x.lineTo(ep-d*12,qy+5);x.closePath();x.fill();
    x.restore();
  };
  draw('#1f77b4',1.111,.895,.05,.056,.955,.854,T);
  draw('#e4571c',1.876,-5.11,.05,1.18,-3.93,2.13,P);
}};
const dBack={id:'dBack',beforeDatasetsDraw(c){
  const g=c.chartArea,x=c.ctx,f=x.createLinearGradient(g.left,0,g.right,0);
  f.addColorStop(0,'#fffefd');f.addColorStop(1,'#fdf8f2');
  x.save();x.fillStyle=f;x.fillRect(g.left,g.top,g.width,g.height);x.restore();
}};
const phaseRadius=phaseValues.map((v,i)=>i===phaseValues.length-1?0:3.5);
new Chart(document.getElementById('cd'),{type:'line',plugins:[dBack,dNotes],
  data:{datasets:[
    {label:'T',data:tLength.map((x,i)=>({x,y:tValues[i]})),yAxisID:'y',borderColor:'#1f77b4',backgroundColor:'#1f77b4',borderWidth:1.8,borderDash:[5,3],pointRadius:4.6,pointBackgroundColor:'#1f77b4',pointBorderWidth:0,tension:0},
    {label:'Phase',data:phaseLength.map((x,i)=>({x,y:phaseValues[i]})),yAxisID:'y1',borderColor:'#e4571c',borderWidth:1.9,pointRadius:phaseRadius,pointBackgroundColor:'rgba(255,250,245,.6)',pointBorderColor:'#e4571c',pointBorderWidth:1.3,tension:0}
  ]},
  options:opts({scales:{
    x:axis({min:0,max:3,pos:'bottom',values:lengthTicks,labels:lengthTickLabels,pad:6,size:55.5}),
    y:axis({min:.3,max:1,pos:'left',values:transTicks,labels:transTickLabels,pad:6,size:67.5,title:'Transmission'}),
    y1:axis({min:-10,max:4,pos:'right',values:phaseAxisTicks,labels:phaseAxisLabels,pad:8,size:73})
  }},'#111',1.8,{top:10})});

/* ---------- panels e and f ---------- */
function heat(id,grid,yTop,rowsSpan){
  const rowStep=rowsSpan/grid.length;
  new Chart(document.getElementById(id),{type:'bar',
    data:{datasets:[Object.assign(cells(grid,i=>-1.5+i*.1,j=>yTop-rowStep*(j+.5),rowStep/2,v=>ramp(magmaTable,v/100)),{inflateAmount:0})]},
    options:opts({scales:{
      x:{type:'linear',display:false,min:-1.55,max:3.55,offset:false},
      y:{type:'linear',display:false,min:yTop-rowsSpan,max:yTop}
    }})});
}
heat('ceHeat',fieldXZ,.26,.52);
heat('cfHeat',fieldXY,.26,.54);
function overlay(id,xr,yr,box,frameC,left,bottom,pad){
  new Chart(document.getElementById(id),{type:'line',
    data:{datasets:[stroke(box,'#fff',2.2,[8,5])]},
    options:opts({scales:{
      x:axis({min:xr[0],max:xr[1],pos:'bottom',values:fieldXTicks,labels:fieldXLabels,pad:5,size:bottom}),
      y:axis({min:yr[0],max:yr[1],pos:'left',values:fieldYTicks,labels:fieldYLabels,pad:7,size:left})
    }},frameC,1.5,pad)});
}
overlay('ce',[-1.51,3.547],[-.257,.252],[[-1,.124],[1,.124],[1,-.129],[-1,-.129],[-1,.124]],null,74.3,31,{top:10.3,right:18});
overlay('cf',[-1.49,3.52],[-.26,.258],[[-1,.081],[1,.081],[1,-.078],[-1,-.078],[-1,.081]],'#111',77.5,30.7,{top:10,right:18});
colourbar('ceBar',magmaTable,0,3.6,[3.5,0],["3.5","0"],t=>t/3.6,10,10,'#aaa',1);
colourbar('cfBar',magmaTable,-.07,4.03,[4,0],["4","0"],t=>t/4.03,10,10,'#888',1);
</script>
</body></html>
